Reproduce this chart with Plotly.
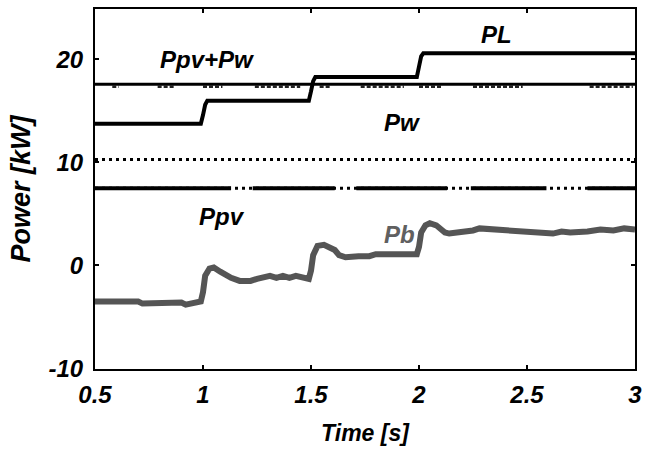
import plotly.graph_objects as go

# ---------------- data ----------------
t_span = [0.5, 3.0]
ppv_pw_val = [17.6, 17.6]
# intervals where Ppv+Pw shows small ripple just below the line
ppvpw_noise_start = [0.58, 0.79, 1.0, 1.24, 1.54, 1.73, 2.0, 2.25, 2.79]
ppvpw_noise_end = [0.61, 0.87, 1.09, 1.45, 1.59, 1.93, 2.11, 2.48, 2.99]
ppvpw_noise_val = 17.35

pl_t = [0.5, 0.99, 1.0, 1.01, 1.02, 1.49, 1.5, 1.51, 1.52, 1.99, 2.0, 2.01, 2.02, 3.0]
pl_v = [13.75, 13.75, 14.6, 15.6, 16.0, 16.0, 16.9, 17.9, 18.3, 18.3, 19.3, 20.3, 20.6, 20.6]

pw_val = [10.3, 10.3]
ppv_val = [7.5, 7.5]
# intervals where the Ppv trace is noisy (looks solid)
ppv_noisy_start = [0.5, 1.23, 1.71, 2.24, 2.78]
ppv_noisy_end = [1.13, 1.61, 2.13, 2.59, 3.0]

pb_t = [0.5, 0.7, 0.72, 0.9, 0.92, 0.99, 1.0, 1.01, 1.03, 1.05, 1.08, 1.1, 1.13, 1.17,
        1.22, 1.25, 1.28, 1.31, 1.34, 1.37, 1.4, 1.43, 1.49,
        1.5, 1.51, 1.53, 1.56, 1.59, 1.61, 1.63, 1.66, 1.72, 1.77, 1.8, 1.85, 1.99,
        2.0, 2.01, 2.03, 2.05, 2.08, 2.1, 2.12, 2.14, 2.2, 2.25, 2.28, 2.35, 2.45,
        2.55, 2.62, 2.66, 2.7, 2.78, 2.84, 2.9, 2.95, 3.0]
pb_v = [-3.5, -3.5, -3.7, -3.6, -3.8, -3.5, -2.6, -1.0, -0.3, -0.2, -0.6, -0.9, -1.2, -1.5,
        -1.5, -1.3, -1.2, -1.0, -1.2, -1.0, -1.2, -1.0, -1.3,
        -0.5, 1.0, 1.9, 2.0, 1.7, 1.5, 1.0, 0.8, 0.9, 0.9, 1.1, 1.1, 1.1,
        1.8, 3.2, 3.9, 4.1, 3.9, 3.5, 3.2, 3.1, 3.2, 3.4, 3.6, 3.5, 3.4,
        3.3, 3.1, 3.3, 3.2, 3.3, 3.5, 3.4, 3.6, 3.5]

x_ticks = [0.5, 1, 1.5, 2, 2.5, 3]
y_ticks = [-10, 0, 10, 20]

labels = ["Ppv+Pw", "PL", "Pw", "Ppv", "Pb"]
label_x = [1.02, 2.36, 1.92, 1.09, 1.91]
label_y = [20.0, 22.4, 13.9, 4.8, 3.0]
label_col = ["black", "black", "black", "black", "#606060"]

FONT = "Liberation Sans, Arial, sans-serif"

fig = go.Figure()

# Pw dotted
fig.add_trace(go.Scatter(x=t_span, y=pw_val, mode="lines",
                         line=dict(color="black", width=3, dash="3px,4px")))
# Ppv dotted + noisy segments
fig.add_trace(go.Scatter(x=t_span, y=ppv_val, mode="lines",
                         line=dict(color="black", width=3, dash="3px,4px")))
nx, ny = [], []
for s, e in zip(ppv_noisy_start, ppv_noisy_end):
    nx += [s, e, None]
    ny += [ppv_val[0], ppv_val[0], None]
fig.add_trace(go.Scatter(x=nx, y=ny, mode="lines", connectgaps=False,
                         line=dict(color="black", width=4)))
# Ppv+Pw with small ripple
rx, ry = [], []
for s, e in zip(ppvpw_noise_start, ppvpw_noise_end):
    rx += [s, e, None]
    ry += [ppvpw_noise_val, ppvpw_noise_val, None]
fig.add_trace(go.Scatter(x=rx, y=ry, mode="lines", connectgaps=False,
                         line=dict(color="#222222", width=2.5, dash="4px,2px")))
fig.add_trace(go.Scatter(x=t_span, y=ppv_pw_val, mode="lines",
                         line=dict(color="black", width=3)))
# PL
fig.add_trace(go.Scatter(x=pl_t, y=pl_v, mode="lines",
                         line=dict(color="black", width=4)))
# Pb
fig.add_trace(go.Scatter(x=pb_t, y=pb_v, mode="lines",
                         line=dict(color="#555555", width=6)))

for txt, xx, yy, c in zip(labels, label_x, label_y, label_col):
    fig.add_annotation(x=xx, y=yy, text="<b><i>%s</i></b>" % txt, showarrow=False,
                       font=dict(family=FONT, size=24, color=c))

fig.update_layout(
    width=656, height=452,
    margin=dict(l=95, r=21, t=7, b=83),
    plot_bgcolor="white", paper_bgcolor="white",
    showlegend=False,
    font=dict(family=FONT, size=24, color="black"),
    xaxis=dict(range=[0.5, 3.0], tickvals=x_ticks,
               ticktext=["<b><i>%g</i></b>" % v for v in x_ticks],
               tickfont=dict(family=FONT, size=24),
               ticks="inside", ticklen=4, tickwidth=2, tickcolor="black",
               showline=True, linecolor="black", linewidth=2, mirror="ticks",
               showgrid=False, zeroline=False, ticklabelstandoff=3,
               title=dict(text="<b><i>Time [s]</i></b>", standoff=18,
                          font=dict(family=FONT, size=23))),
    yaxis=dict(range=[-10.05, 24.9], tickvals=y_ticks,
               ticktext=["<b><i>%g</i></b>" % v for v in y_ticks],
               tickfont=dict(family=FONT, size=24),
               ticks="inside", ticklen=4, tickwidth=2, tickcolor="black",
               showline=True, linecolor="black", linewidth=2, mirror="ticks",
               showgrid=False, zeroline=False, ticklabelstandoff=5,
               title=dict(text="<b><i>Power [kW]</i></b>", standoff=10,
                          font=dict(family=FONT, size=27))),
)

fig.write_html("out.html")
